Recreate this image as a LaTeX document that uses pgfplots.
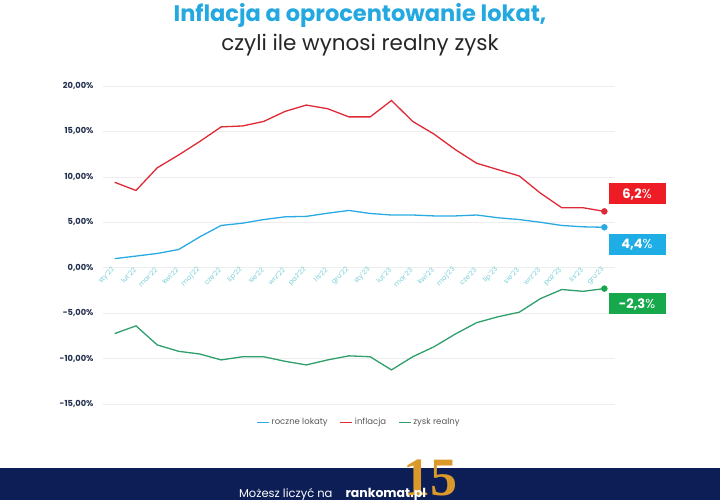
\documentclass[border=0pt]{standalone}
\usepackage{pgfplots}
\pgfplotsset{compat=1.18}
\usepackage{pgfplotstable}
\usepackage{fontspec}
\setmainfont{Poppins}
\newfontfamily\seriffont{Liberation Serif}
\definecolor{cBlue}{HTML}{2AAAE2}
\definecolor{cRed}{HTML}{DE2A36}
\definecolor{cGreen}{HTML}{2E9E6B}
\definecolor{boxRed}{HTML}{EE1C24}
\definecolor{boxBlue}{HTML}{1FADE6}
\definecolor{boxGreen}{HTML}{17A84B}
\definecolor{titleBlue}{HTML}{23A8E0}
\definecolor{navy}{HTML}{0C1E55}
\definecolor{tickNavy}{HTML}{24304F}
\definecolor{xlab}{HTML}{7CCFD6}
\definecolor{gold}{HTML}{D99A2B}

\pgfplotstableread{
x lok inf zysk
0  1.00 9.4 -7.25
1  1.28 8.5 -6.40
2  1.57 11.0 -8.50
3  2.00 12.4 -9.20
4  3.40 13.9 -9.50
5  4.65 15.5 -10.15
6  4.90 15.6 -9.80
7  5.30 16.1 -9.80
8  5.60 17.2 -10.30
9  5.65 17.9 -10.70
10 6.00 17.5 -10.15
11 6.30 16.6 -9.70
12 5.97 16.6 -9.80
13 5.80 18.4 -11.25
14 5.80 16.1 -9.80
15 5.70 14.7 -8.70
16 5.70 13.0 -7.30
17 5.80 11.5 -6.05
18 5.50 10.8 -5.40
19 5.30 10.1 -4.90
20 5.00 8.2 -3.40
21 4.65 6.6 -2.40
22 4.50 6.6 -2.60
23 4.45 6.2 -2.30
}\data

\pgfplotstableread{
x lok inf zysk
23 4.45 6.2 -2.30
}\last

\begin{document}
\begin{tikzpicture}
\useasboundingbox (0,0) rectangle (720pt,500pt);
\fill[navy] (0,0) rectangle (720pt,32pt);
\node[text=titleBlue, font=\fontsize{22.5}{26}\selectfont\bfseries] at (360pt,485pt) {Inflacja a oprocentowanie lokat,};
\node[text=black!85, font=\fontsize{21.5}{25}\selectfont] at (360pt,455pt) {czyli ile wynosi realny zysk};
\node[text=gold, font=\seriffont\fontsize{54}{54}\selectfont\bfseries] at (430pt,22pt) {15};
\node[text=white, font=\fontsize{11.5}{13}\selectfont, anchor=base east] at (336pt,2pt) {Możesz liczyć na};
\node[text=white, font=\fontsize{12.5}{14}\selectfont\bfseries, anchor=base west] at (342pt,2pt) {rankomat.pl};
\begin{axis}[
  at={(103pt,96pt)}, anchor=south west,
  width=512pt, height=318pt, scale only axis,
  xmin=-0.55, xmax=23.5, ymin=-15, ymax=20,
  axis x line=middle, axis y line=left,
  x axis line style={draw=none}, y axis line style={draw=none},
  hide obscured x ticks=false, hide obscured y ticks=false,
  major tick length=0pt,
  ytick={-15,-10,...,20},
  yticklabels={{-15,00\%},{-10,00\%},{-5,00\%},{0,00\%},{5,00\%},{10,00\%},{15,00\%},{20,00\%}},
  xtick={0,...,23},
  xticklabels={sty'22,lut'22,mar'22,kwi'22,maj'22,cze'22,lip'22,sie'22,wrz'22,paź'22,lis'22,gru'22,sty'23,lut'23,mar'23,kwi'23,maj'23,cze'23,lip'23,sie'23,wrz'23,paź'23,lis'23,gru'23},
  ymajorgrids,
  grid style={color=black!7, line width=0.6pt},
  xticklabel style={rotate=45, anchor=east, font=\fontsize{6.8}{8}\selectfont, text=xlab, inner sep=1.5pt},
  yticklabel style={font=\fontsize{8.3}{10}\selectfont\bfseries, text=tickNavy, xshift=-6pt},
  clip=false,
  legend style={at={(0.5,-0.057)}, anchor=center, draw=none, fill=none, legend columns=-1,
    font=\fontsize{8.5}{10}\selectfont, text=black!65,
    /tikz/every even column/.append style={column sep=10pt}},
  legend image code/.code={\draw[#1, line width=1.2pt] (0pt,0pt) -- (12pt,0pt);},
]
\addplot[cBlue, line width=1.3pt] table[x=x, y=lok] {\data};
\addlegendentry{roczne lokaty}
\addplot[cRed, line width=1.3pt] table[x=x, y=inf] {\data};
\addlegendentry{inflacja}
\addplot[cGreen, line width=1.3pt] table[x=x, y=zysk] {\data};
\addlegendentry{zysk realny}
\addplot[only marks, mark=*, mark size=3pt, cBlue, forget plot] table[x=x, y=lok] {\last};
\addplot[only marks, mark=*, mark size=3pt, cRed, forget plot] table[x=x, y=inf] {\last};
\addplot[only marks, mark=*, mark size=3pt, boxGreen, forget plot] table[x=x, y=zysk] {\last};
\end{axis}
\node[fill=boxRed, text=white, minimum width=57pt, minimum height=21pt, inner sep=0pt, font=\fontsize{13}{14}\selectfont] at (637pt,306pt) {\textbf{6,2}\%};
\node[fill=boxBlue, text=white, minimum width=57pt, minimum height=21pt, inner sep=0pt, font=\fontsize{13}{14}\selectfont] at (637pt,255pt) {\textbf{4,4}\%};
\node[fill=boxGreen, text=white, minimum width=57pt, minimum height=21pt, inner sep=0pt, font=\fontsize{13}{14}\selectfont] at (637pt,196pt) {\textbf{-2,3}\%};
\end{tikzpicture}
\end{document}
